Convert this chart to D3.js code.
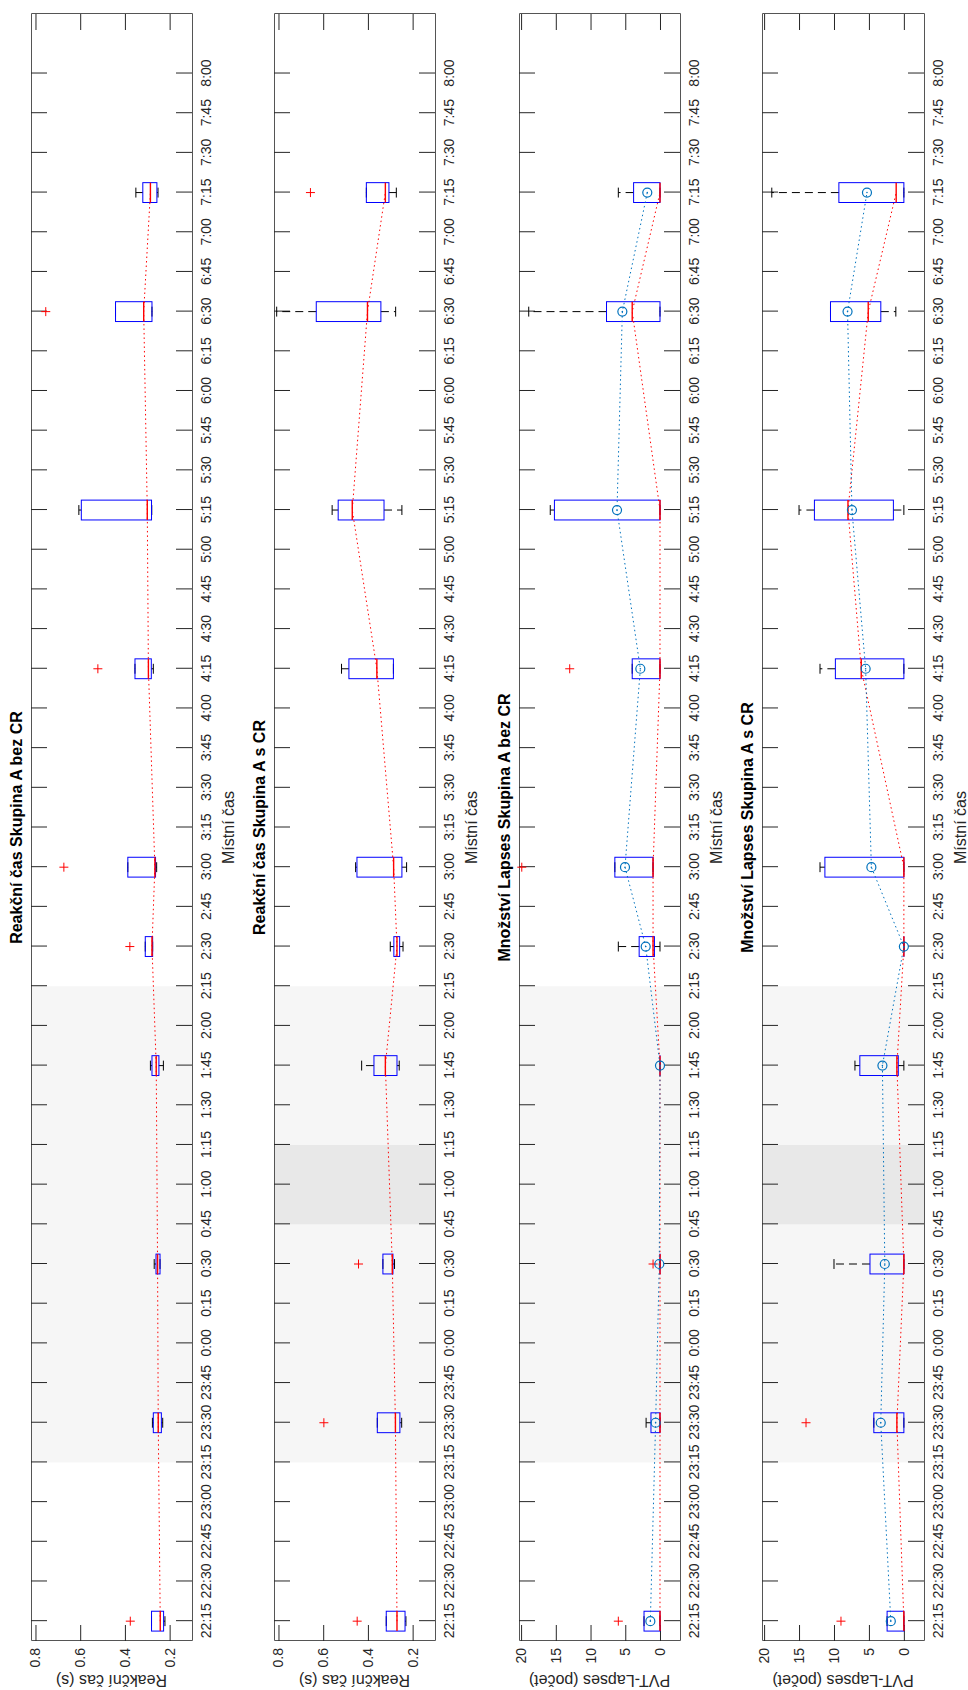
<!DOCTYPE html>
<html>
<head>
<meta charset="utf-8">
<script src="https://cdn.jsdelivr.net/npm/d3@7"></script>
<style>
  body { margin: 0; background: #fff; }
  text { font-family: "Liberation Sans", Arial, Helvetica, sans-serif; }
</style>
</head>
<body>
<svg id="chart" width="968" height="1690"></svg>
<script>
// time axis labels (every 15 min)
const timeLabels = ["22:15","22:30","22:45","23:00","23:15","23:30","23:45","0:00","0:15","0:30",
  "0:45","1:00","1:15","1:30","1:45","2:00","2:15","2:30","2:45","3:00",
  "3:15","3:30","3:45","4:00","4:15","4:30","4:45","5:00","5:15","5:30",
  "5:45","6:00","6:15","6:30","6:45","7:00","7:15","7:30","7:45","8:00"];

// measurement times
const sampleTimes = ["22:15","23:30","0:30","1:45","2:30","3:00","4:15","5:15","6:30","7:15"];

// rows: [lower whisker, q1, median, q3, upper whisker]
const rtBezBoxes = [
  [0.221, 0.227, 0.242, 0.281, 0.281],
  [0.231, 0.237, 0.251, 0.273, 0.277],
  [0.243, 0.243, 0.254, 0.261, 0.269],
  [0.228, 0.248, 0.260, 0.279, 0.286],
  [0.276, 0.276, 0.279, 0.309, 0.309],
  [0.258, 0.263, 0.266, 0.387, 0.387],
  [0.273, 0.282, 0.295, 0.355, 0.355],
  [0.280, 0.281, 0.300, 0.595, 0.606],
  [0.279, 0.279, 0.316, 0.442, 0.442],
  [0.252, 0.257, 0.286, 0.320, 0.351]
];
const rtBezOutliers = [["22:15",0.376],["2:30",0.378],["3:00",0.673],["4:15",0.521],["6:30",0.754]];

const rtCrBoxes = [
  [0.230, 0.234, 0.270, 0.318, 0.318],
  [0.249, 0.257, 0.277, 0.358, 0.358],
  [0.281, 0.288, 0.291, 0.333, 0.333],
  [0.260, 0.270, 0.322, 0.373, 0.428],
  [0.243, 0.258, 0.270, 0.284, 0.300],
  [0.227, 0.248, 0.285, 0.449, 0.455],
  [0.286, 0.286, 0.360, 0.485, 0.518],
  [0.248, 0.328, 0.470, 0.533, 0.560],
  [0.276, 0.342, 0.402, 0.631, 0.808],
  [0.273, 0.306, 0.322, 0.407, 0.407]
];
const rtCrOutliers = [["22:15",0.448],["23:30",0.597],["0:30",0.442],["7:15",0.657]];

const lapsesBezBoxes = [
  [0, 0, 0, 2.3, 2.3],
  [0, 0, 0, 1.3, 2],
  [0, 0, 0, 0, 0],
  [0, 0, 0, 0, 0],
  [0, 0.8, 1, 3, 6],
  [1, 1, 1, 6.5, 6.5],
  [0, 0, 0, 4, 4],
  [0, 0, 0, 15.2, 15.8],
  [0, 0, 4, 7.7, 18.9],
  [0, 0, 0, 3.8, 6]
];
const lapsesBezOutliers = [["22:15",6],["0:30",1],["3:00",19.9],["4:15",13]];
const lapsesBezMeans = [1.39, 0.63, 0.1, 0, 2.06, 5.04, 2.83, 6.19, 5.42, 1.83];

const lapsesCrBoxes = [
  [0, 0, 0, 2.4, 2.4],
  [0, 0, 1, 4.3, 4.3],
  [0, 0, 0, 4.85, 10],
  [0, 0.8, 1, 6.3, 7],
  [0, 0, 0, 0, 0],
  [0, 0, 0, 11.3, 12],
  [0, 0, 6.1, 9.8, 12],
  [0, 1.5, 8, 12.8, 15],
  [1.15, 3.3, 5.1, 10.5, 10.5],
  [0, 0, 1.1, 9.3, 18.9]
];
const lapsesCrOutliers = [["22:15",9],["23:30",14]];
const lapsesCrMeans = [1.87, 3.31, 2.73, 3.07, 0, 4.65, 5.47, 7.43, 8.06, 5.28];

const rtTicks = [0.2, 0.4, 0.6, 0.8];
const lapseTicks = [0, 5, 10, 15, 20];

const panels = [
  { title: "Reakční čas Skupina A bez CR", ylabel: "Reakční čas (s)", boxes: rtBezBoxes, outliers: rtBezOutliers, means: null,
    domain: [0.1, 0.82], ticks: rtTicks, fmt: d3.format(".1f"), dark: false, top: 31, h: 161 },
  { title: "Reakční čas Skupina A s CR", ylabel: "Reakční čas (s)", boxes: rtCrBoxes, outliers: rtCrOutliers, means: null,
    domain: [0.1, 0.82], ticks: rtTicks, fmt: d3.format(".1f"), dark: true, top: 274, h: 161 },
  { title: "Množství Lapses Skupina A bez CR", ylabel: "PVT-Lapses (počet)", boxes: lapsesBezBoxes, outliers: lapsesBezOutliers, means: lapsesBezMeans,
    domain: [-2.88, 20.3], ticks: lapseTicks, fmt: d3.format("d"), dark: false, top: 519, h: 161 },
  { title: "Množství Lapses Skupina A s CR", ylabel: "PVT-Lapses (počet)", boxes: lapsesCrBoxes, outliers: lapsesCrOutliers, means: lapsesCrMeans,
    domain: [-2.88, 20.3], ticks: lapseTicks, fmt: d3.format("d"), dark: true, top: 762, h: 162 }
];

const svg = d3.select("#chart");
// the figure is laid out landscape and turned a quarter turn
const root = svg.append("g").attr("transform", "translate(0,1690) rotate(-90)");

const x = d3.scaleLinear().domain([-0.5, 40.5]).range([49, 1676]);
const idx = sampleTimes.map(t => timeLabels.indexOf(t));
const axisColor = "#262626";

function styleAxis(sel) {
  sel.attr("font-size", 14).attr("font-family", "'Liberation Sans', Arial, sans-serif");
  sel.select(".domain").attr("stroke", "#555").attr("stroke-width", 1);
  sel.selectAll(".tick line").attr("stroke", axisColor);
  sel.selectAll(".tick text").attr("fill", axisColor);
}

panels.forEach(p => {
  const g = root.append("g");
  const top = p.top, bottom = p.top + p.h;
  const y = d3.scaleLinear().domain(p.domain).range([bottom, top]);

  // night shading
  g.append("rect").attr("x", x(4)).attr("width", x(16) - x(4))
    .attr("y", top).attr("height", p.h).attr("fill", "#f6f6f6");
  if (p.dark) {
    g.append("rect").attr("x", x(10)).attr("width", x(12) - x(10))
      .attr("y", top).attr("height", p.h).attr("fill", "#e8e8e8");
  }

  // axes
  g.append("g").attr("transform", `translate(0,${bottom})`)
    .call(d3.axisBottom(x).tickValues(d3.range(timeLabels.length)).tickFormat(i => timeLabels[i])
      .tickSizeInner(-16).tickSizeOuter(0).tickPadding(9.5))
    .call(styleAxis);
  g.append("g").attr("transform", `translate(0,${top})`)
    .call(d3.axisTop(x).tickValues(d3.range(timeLabels.length)).tickFormat("")
      .tickSizeInner(-16).tickSizeOuter(0))
    .call(styleAxis);
  g.append("g").attr("transform", `translate(${x.range()[0]},0)`)
    .call(d3.axisLeft(y).tickValues(p.ticks).tickFormat(p.fmt)
      .tickSizeInner(-16).tickSizeOuter(0).tickPadding(7))
    .call(styleAxis);
  g.append("g").attr("transform", `translate(${x.range()[1]},0)`)
    .call(d3.axisRight(y).tickValues(p.ticks).tickFormat("")
      .tickSizeInner(-16).tickSizeOuter(0))
    .call(styleAxis);

  // boxplots
  const bw = 0.25, cw = 0.125;
  const bx = g.append("g").selectAll("g").data(p.boxes).enter().append("g");
  bx.each(function(d, i) {
    const s = d3.select(this), t = idx[i];
    const [lo, q1, med, q3, hi] = d;
    s.append("line").attr("x1", x(t)).attr("x2", x(t)).attr("y1", y(q3)).attr("y2", y(hi))
      .attr("stroke", "#000").attr("stroke-dasharray", "8,5");
    s.append("line").attr("x1", x(t)).attr("x2", x(t)).attr("y1", y(q1)).attr("y2", y(lo))
      .attr("stroke", "#000").attr("stroke-dasharray", "8,5");
    [lo, hi].forEach(v => {
      s.append("line").attr("x1", x(t - cw)).attr("x2", x(t + cw)).attr("y1", y(v)).attr("y2", y(v))
        .attr("stroke", "#000");
    });
    s.append("rect").attr("x", x(t - bw)).attr("width", x(t + bw) - x(t - bw))
      .attr("y", y(q3)).attr("height", Math.max(0.01, y(q1) - y(q3)))
      .attr("fill", "none").attr("stroke", "#0000ff");
    s.append("line").attr("x1", x(t - bw)).attr("x2", x(t + bw)).attr("y1", y(med)).attr("y2", y(med))
      .attr("stroke", "#ff0000").attr("stroke-width", 1.4);
  });

  // outliers
  g.append("g").selectAll("path").data(p.outliers).enter().append("path")
    .attr("d", d => {
      const cx = x(timeLabels.indexOf(d[0])), cy = y(d[1]);
      return `M${cx - 4.5},${cy}H${cx + 4.5}M${cx},${cy - 4.5}V${cy + 4.5}`;
    })
    .attr("stroke", "#ff0000").attr("stroke-width", 1).attr("fill", "none");

  // median line
  const line = d3.line().x((d, i) => x(idx[i])).y(d => y(d));
  g.append("path").datum(p.boxes.map(b => b[2])).attr("d", line)
    .attr("fill", "none").attr("stroke", "#ff0000").attr("stroke-width", 1)
    .attr("stroke-dasharray", "1.5,3");

  // means
  if (p.means) {
    g.append("path").datum(p.means).attr("d", line)
      .attr("fill", "none").attr("stroke", "#0072bd").attr("stroke-width", 1)
      .attr("stroke-dasharray", "1.5,3");
    const m = g.append("g").selectAll("g").data(p.means).enter().append("g")
      .attr("transform", (d, i) => `translate(${x(idx[i])},${y(d)})`);
    m.append("circle").attr("r", 4.5).attr("fill", "none").attr("stroke", "#0072bd").attr("stroke-width", 1.2);
    m.append("circle").attr("r", 0.8).attr("fill", "#0072bd");
  }

  // texts
  const cx = (x.range()[0] + x.range()[1]) / 2;
  g.append("text").attr("x", cx).attr("y", top - 9).attr("text-anchor", "middle")
    .attr("font-size", 16).attr("font-weight", "bold").attr("fill", "#000").text(p.title);
  g.append("text").attr("x", cx).attr("y", bottom + 41.5).attr("text-anchor", "middle")
    .attr("font-size", 16).attr("fill", axisColor).text("Místní čas");
  g.append("text").attr("transform", `translate(15,${(top + bottom) / 2}) rotate(-90)`)
    .attr("text-anchor", "middle").attr("font-size", 16).attr("fill", axisColor).text(p.ylabel);
});
</script>
</body>
</html>
